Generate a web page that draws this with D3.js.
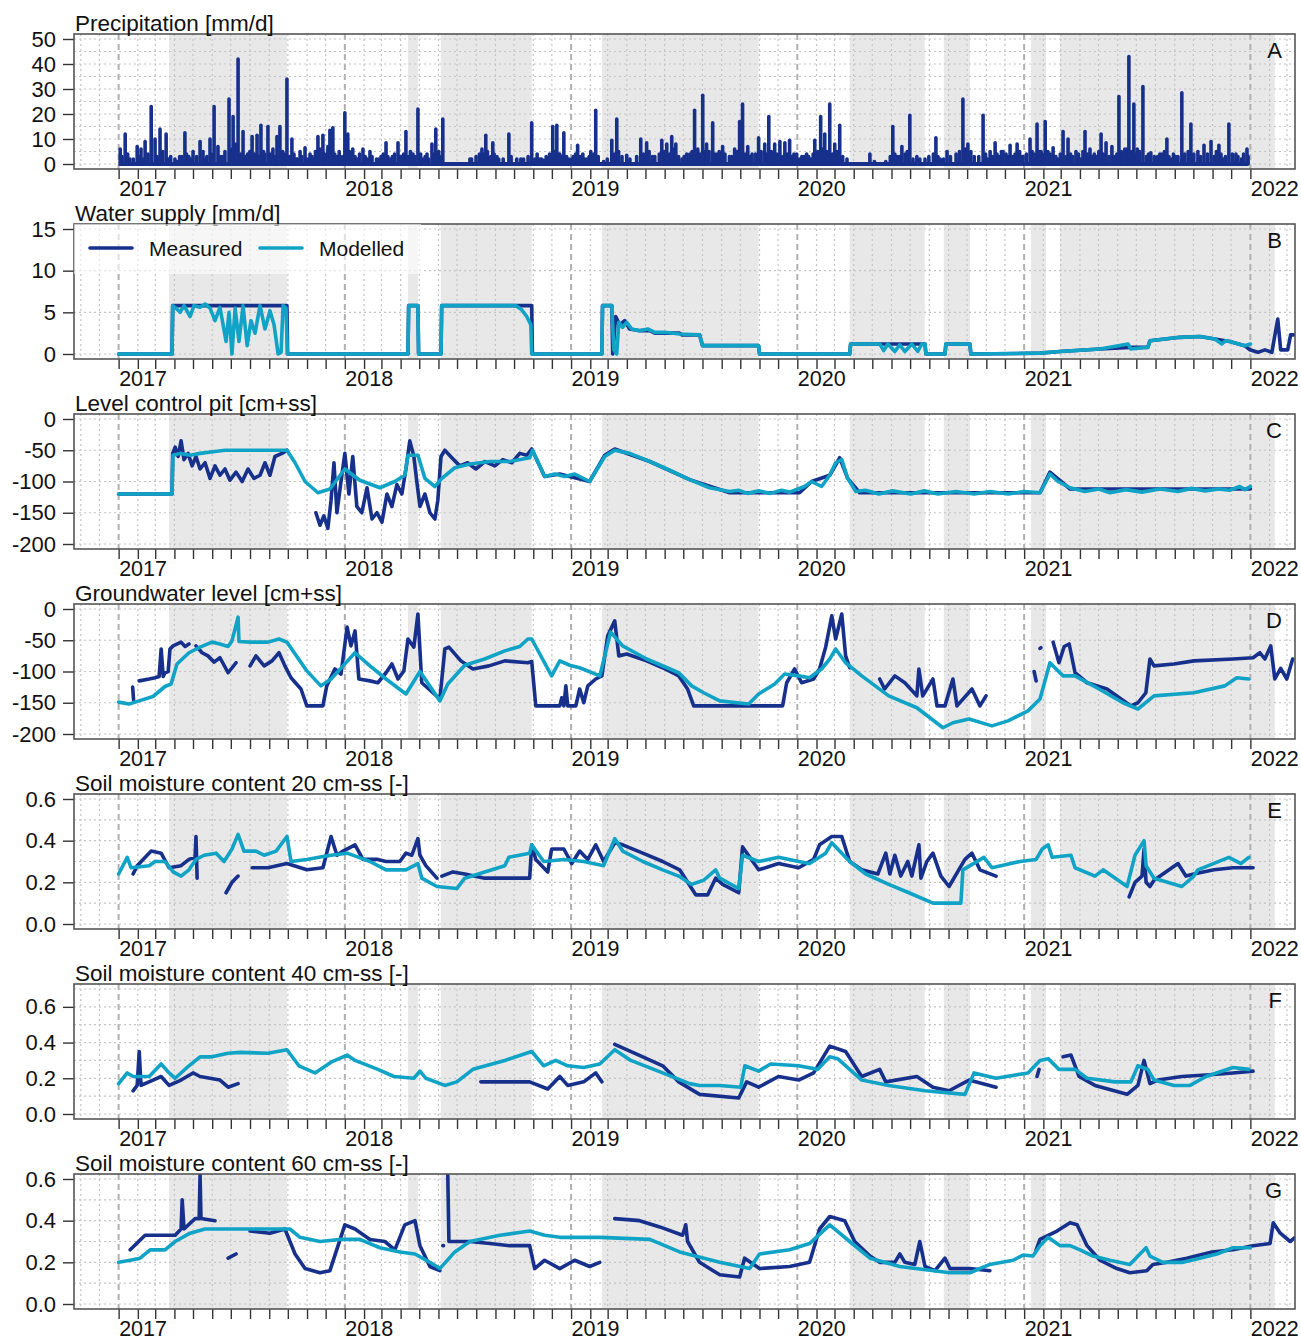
<!doctype html>
<html>
<head>
<meta charset="utf-8">
<style>
  body { margin: 0; background: #fff; }
  svg text { font-family: Arial, "Liberation Sans", sans-serif; fill: #111; }
</style>
<script src="https://cdn.jsdelivr.net/npm/d3@7"></script>
</head>
<body>
<script>
// ---- data: [decimal year, value]; null marks a gap ----
const shadePeriods = [[2017.223, 2017.744], [2018.279, 2018.323], [2018.424, 2018.826], [2019.136, 2019.829],
  [2020.231, 2020.562], [2020.646, 2020.761], [2021.030, 2021.097], [2021.158, 2022.108]];

// precipitation, larger events [year, mm/d]
const precipEvents = [
[2017.007,6],[2017.029,12],[2017.05,2],[2017.082,7],[2017.099,6],[2017.117,9],[2017.144,23],[2017.161,10],[2017.183,14],[2017.21,12],[2017.23,3],[2017.249,2],[2017.27,3],[2017.293,12.5],[2017.31,3],[2017.329,5],[2017.36,9],[2017.373,5],[2017.39,3],[2017.404,10],[2017.422,23],[2017.439,7],[2017.46,3],[2017.488,26],[2017.506,19],[2017.528,42],[2017.55,13],[2017.57,4],[2017.59,11],[2017.612,11.5],[2017.629,15.5],[2017.645,4],[2017.66,15],[2017.682,6],[2017.70,11],[2017.713,15],[2017.744,34],[2017.766,10],[2017.785,2],[2017.802,5],[2017.824,6.5],[2017.846,4],[2017.865,2],[2017.881,11],[2017.903,11.5],[2017.92,4],[2017.934,13.5],[2017.947,14.5],[2017.965,3],
[2018.0,20.5],[2018.013,12],[2018.035,6],[2018.055,2],[2018.08,6],[2018.111,5],[2018.14,2],[2018.16,3],[2018.182,8.5],[2018.21,3],[2018.235,8.5],[2018.25,3],[2018.27,13],[2018.301,4],[2018.323,22],[2018.345,2],[2018.363,4],[2018.385,8],[2018.402,14],[2018.433,18],[2018.553,2],[2018.606,6],[2018.623,11.5],[2018.654,8.5],[2018.672,3],[2018.70,2],[2018.725,12],[2018.778,2],[2018.826,16.5],[2018.862,2],[2018.88,1.5],[2018.919,15],[2018.937,15.5],[2018.95,4],[2018.968,12.5],
[2019.003,2],[2019.029,7.5],[2019.052,4],[2019.07,2],[2019.087,5],[2019.109,21.5],[2019.144,1],[2019.18,9.5],[2019.202,18],[2019.246,3.5],[2019.308,10],[2019.334,8.5],[2019.37,3],[2019.401,9.5],[2019.423,8],[2019.445,11],[2019.463,8],[2019.49,2],[2019.511,4],[2019.546,21.5],[2019.582,27.5],[2019.599,8],[2019.626,16.5],[2019.645,4],[2019.67,7],[2019.70,3],[2019.723,6],[2019.745,17],[2019.758,24],[2019.781,7],[2019.80,4],[2019.829,10.5],[2019.856,8],[2019.874,19],[2019.90,8],[2019.923,9],[2019.945,8.5],[2019.966,9.5],[2019.997,4],
[2020.02,3],[2020.041,4],[2020.06,2],[2020.077,9.5],[2020.103,19],[2020.121,12],[2020.143,24],[2020.165,8],[2020.187,15.5],[2020.219,2],[2020.32,4],[2020.34,1],[2020.39,1],[2020.421,15],[2020.44,3],[2020.461,7],[2020.496,19.5],[2020.527,3],[2020.563,2],[2020.611,10.5],[2020.63,2],[2020.66,5],[2020.73,26],[2020.752,8],[2020.78,3],[2020.819,19.5],[2020.84,2],[2020.872,8.5],[2020.89,3],[2020.907,5],[2020.938,7.5],[2020.95,3],[2020.969,8],[2020.99,3],
[2021.026,10],[2021.057,16],[2021.075,5],[2021.093,17],[2021.128,6.5],[2021.15,2],[2021.172,13],[2021.194,10],[2021.229,5],[2021.25,2],[2021.269,13],[2021.291,6],[2021.32,3],[2021.34,12],[2021.362,8.5],[2021.388,7],[2021.40,3],[2021.419,27],[2021.445,6],[2021.463,43],[2021.485,24],[2021.50,6],[2021.525,31],[2021.56,4.5],[2021.59,3],[2021.61,4],[2021.631,10],[2021.65,2],[2021.67,3],[2021.697,28.5],[2021.737,16],[2021.768,5],[2021.795,7.5],[2021.826,9],[2021.861,7.5],[2021.88,2],[2021.905,16],[2021.936,4],[2021.96,2],[2021.985,6]];

// precipitation, small daily amounts between the events [year, mm/d]
const precipLight = [
[2017.015,3],[2017.04,4],[2017.065,2],[2017.09,3],[2017.11,2],[2017.13,4],[2017.17,3],[2017.195,5],[2017.22,2],[2017.26,1],[2017.28,3],[2017.30,4],[2017.32,2],[2017.345,3],[2017.385,2],[2017.41,4],[2017.45,3],[2017.47,5],[2017.495,6],[2017.515,8],[2017.54,4],[2017.56,3],[2017.58,5],[2017.60,4],[2017.62,3],[2017.64,5],[2017.67,4],[2017.69,3],[2017.725,5],[2017.735,4],[2017.755,3],[2017.775,4],[2017.79,2],[2017.81,3],[2017.835,2],[2017.855,3],[2017.87,5],[2017.89,6],[2017.91,4],[2017.925,7],[2017.94,5],[2017.955,4],[2017.975,5],[2017.99,3],
[2018.005,4],[2018.02,5],[2018.045,3],[2018.065,4],[2018.09,3],[2018.10,2],[2018.12,3],[2018.15,2],[2018.17,4],[2018.19,3],[2018.20,2],[2018.22,4],[2018.24,3],[2018.26,4],[2018.28,3],[2018.29,5],[2018.31,3],[2018.335,4],[2018.355,3],[2018.37,2],[2018.395,4],[2018.415,5],[2018.425,3],[2018.56,2],[2018.58,3],[2018.595,4],[2018.615,4],[2018.63,5],[2018.645,3],[2018.66,4],[2018.68,2],[2018.735,3],[2018.76,2],[2018.79,2],[2018.81,3],[2018.84,2],[2018.85,4],[2018.87,2],[2018.89,3],[2018.905,4],[2018.925,5],[2018.945,4],[2018.96,3],[2018.98,3],[2018.99,2],
[2019.01,3],[2019.02,4],[2019.04,3],[2019.06,2],[2019.08,3],[2019.10,4],[2019.12,3],[2019.16,2],[2019.19,4],[2019.21,5],[2019.225,3],[2019.26,2],[2019.29,3],[2019.32,4],[2019.345,5],[2019.36,3],[2019.39,4],[2019.41,5],[2019.435,4],[2019.455,6],[2019.475,3],[2019.50,3],[2019.525,4],[2019.535,5],[2019.56,6],[2019.57,4],[2019.59,5],[2019.61,5],[2019.635,4],[2019.655,5],[2019.68,4],[2019.71,3],[2019.735,5],[2019.77,4],[2019.79,3],[2019.815,4],[2019.84,5],[2019.865,4],[2019.885,5],[2019.91,4],[2019.935,3],[2019.955,4],[2019.975,3],[2019.985,4],
[2020.01,2],[2020.03,3],[2020.05,3],[2020.07,4],[2020.09,5],[2020.11,6],[2020.13,5],[2020.155,4],[2020.175,5],[2020.20,3],[2020.41,3],[2020.43,4],[2020.45,3],[2020.475,4],[2020.485,5],[2020.51,2],[2020.54,2],[2020.58,3],[2020.60,4],[2020.62,3],[2020.645,2],[2020.675,3],[2020.70,4],[2020.715,5],[2020.74,6],[2020.765,5],[2020.80,3],[2020.83,4],[2020.85,5],[2020.86,3],[2020.88,4],[2020.90,5],[2020.92,4],[2020.93,3],[2020.96,4],[2020.98,5],[2020.995,3],
[2021.01,4],[2021.035,5],[2021.045,4],[2021.065,5],[2021.08,4],[2021.105,5],[2021.115,4],[2021.14,3],[2021.16,4],[2021.185,3],[2021.205,4],[2021.215,3],[2021.24,4],[2021.26,5],[2021.28,4],[2021.30,3],[2021.31,4],[2021.33,5],[2021.35,4],[2021.375,3],[2021.41,4],[2021.43,5],[2021.455,6],[2021.475,5],[2021.495,4],[2021.51,5],[2021.54,3],[2021.55,4],[2021.575,3],[2021.60,4],[2021.62,5],[2021.64,3],[2021.66,4],[2021.68,3],[2021.71,4],[2021.725,5],[2021.75,4],[2021.78,3],[2021.81,4],[2021.84,3],[2021.85,5],[2021.87,4],[2021.89,3],[2021.92,4],[2021.945,3],[2021.97,4],[2021.99,3]];
const precipSpan = [2017.0, 2021.99];

// water supply [mm/d]
const supplyMeasured = [[2017.0,0],[2017.236,0],[2017.239,5.8],[2017.744,5.8],[2017.747,0],[2018.279,0],[2018.282,5.8],[2018.323,5.8],[2018.326,0],[2018.425,0],[2018.428,5.8],[2018.826,5.8],[2018.829,0],[2019.136,0],[2019.139,5.8],[2019.180,5.8],[2019.184,0],[2019.197,4.5],[2019.215,3.5],[2019.237,4],[2019.259,3],[2019.303,2.8],[2019.348,2.8],[2019.370,2.5],[2019.480,2.5],[2019.489,2.3],[2019.568,2.3],[2019.581,1],[2019.829,1],[2019.833,0],[2020.231,0],[2020.235,1.2],[2020.563,1.2],[2020.567,0],[2020.651,0],[2020.655,1.2],[2020.761,1.2],[2020.765,0],[2021.070,0.1],[2021.158,0.3],[2021.335,0.6],[2021.467,0.8],[2021.547,0.8],[2021.556,1.6],[2021.689,2.0],[2021.777,2.1],[2021.843,1.8],[2021.909,1.5],[2021.975,1.0],[2021.998,0.5],[2022.033,0.2],[2022.064,0.5],[2022.095,0.2],[2022.121,4.2],[2022.134,0.5],[2022.165,0.5],[2022.178,2.3],[2022.191,2.3]];
const supplyModelled = [[2017.0,0],[2017.236,0],[2017.239,5.8],[2017.254,5.5],[2017.272,5.0],[2017.289,5.8],[2017.316,4.5],[2017.333,5.8],[2017.360,5.6],[2017.382,6.0],[2017.404,5.5],[2017.426,4.0],[2017.448,5.6],[2017.475,1.5],[2017.488,5.0],[2017.501,0],[2017.515,5.5],[2017.532,1.5],[2017.550,5.8],[2017.568,1.0],[2017.585,4.0],[2017.603,2.5],[2017.625,5.8],[2017.647,3.0],[2017.669,5.2],[2017.687,3.5],[2017.705,0],[2017.718,0.2],[2017.727,5.8],[2017.740,5.5],[2017.746,0],[2018.279,0],[2018.282,5.8],[2018.323,5.8],[2018.326,0],[2018.425,0],[2018.428,5.8],[2018.756,5.8],[2018.782,5.3],[2018.804,4.5],[2018.822,3.5],[2018.826,0],[2019.136,0],[2019.139,5.8],[2019.180,5.8],[2019.189,0.5],[2019.202,0],[2019.211,3.8],[2019.228,3.2],[2019.246,3.8],[2019.268,3.0],[2019.303,2.8],[2019.339,3.0],[2019.370,2.6],[2019.414,2.6],[2019.480,2.4],[2019.568,2.3],[2019.581,1.0],[2019.829,1],[2019.833,0],[2020.231,0],[2020.235,1.2],[2020.364,1.2],[2020.381,0.4],[2020.399,1.2],[2020.430,0.3],[2020.452,1.1],[2020.474,0.3],[2020.505,1.2],[2020.531,0.3],[2020.549,1.2],[2020.563,1.2],[2020.567,0],[2020.651,0],[2020.655,1.2],[2020.761,1.2],[2020.765,0],[2021.070,0.1],[2021.158,0.3],[2021.335,0.6],[2021.459,1.2],[2021.472,0.6],[2021.547,0.8],[2021.556,1.6],[2021.689,2.0],[2021.777,2.1],[2021.843,1.8],[2021.874,1.2],[2021.891,1.6],[2021.909,1.5],[2021.975,1.0],[2022.0,1.2]];

// level control pit [cm+ss]
const pitMeasured = [[2017.0,-120],[2017.236,-120],[2017.239,-55],[2017.250,-45],[2017.263,-60],[2017.276,-35],[2017.289,-65],[2017.307,-55],[2017.325,-75],[2017.342,-60],[2017.360,-80],[2017.382,-70],[2017.404,-95],[2017.426,-75],[2017.448,-90],[2017.470,-80],[2017.492,-98],[2017.519,-85],[2017.546,-100],[2017.572,-80],[2017.598,-95],[2017.625,-90],[2017.647,-70],[2017.669,-90],[2017.691,-60],[2017.722,-55],[2017.744,-50],null,
[2017.872,-150],[2017.890,-170],[2017.907,-155],[2017.925,-175],[2017.939,-130],[2017.952,-70],[2017.965,-150],[2017.983,-100],[2018.0,-55],[2018.018,-120],[2018.035,-60],[2018.053,-140],[2018.075,-150],[2018.098,-110],[2018.120,-160],[2018.142,-150],[2018.164,-165],[2018.186,-120],[2018.208,-140],[2018.230,-105],[2018.252,-120],[2018.270,-80],[2018.287,-35],[2018.305,-60],[2018.318,-100],[2018.332,-140],[2018.354,-120],[2018.376,-150],[2018.398,-160],[2018.411,-130],[2018.425,-60],[2018.442,-50],[2018.473,-62],[2018.508,-75],[2018.543,-70],[2018.579,-80],[2018.619,-68],[2018.663,-75],[2018.698,-65],[2018.738,-70],[2018.773,-55],[2018.804,-58],[2018.826,-48],[2018.883,-92],[2018.950,-88],[2019.082,-100],[2019.149,-58],[2019.193,-48],[2019.348,-68],[2019.524,-97],[2019.701,-118],[2020.010,-118],[2020.063,-100],[2020.143,-90],[2020.187,-62],[2020.222,-95],[2020.275,-118],[2021.070,-118],[2021.114,-85],[2021.203,-112],[2022.0,-112]];
const pitModelled = [[2017.0,-120],[2017.236,-120],[2017.24,-58],[2017.272,-55],[2017.316,-58],[2017.360,-55],[2017.426,-52],[2017.470,-50],[2017.744,-50],[2017.780,-70],[2017.824,-100],[2017.881,-118],[2017.934,-112],[2018.0,-80],[2018.066,-98],[2018.155,-110],[2018.221,-100],[2018.265,-90],[2018.279,-58],[2018.323,-58],[2018.354,-95],[2018.398,-108],[2018.429,-95],[2018.486,-78],[2018.553,-72],[2018.641,-68],[2018.729,-68],[2018.817,-62],[2018.830,-50],[2018.883,-92],[2018.928,-88],[2018.972,-92],[2019.016,-88],[2019.082,-100],[2019.149,-60],[2019.193,-50],[2019.259,-55],[2019.348,-68],[2019.436,-82],[2019.524,-97],[2019.612,-110],[2019.701,-116],[2019.74,-114],[2019.78,-119],[2019.83,-115],[2019.88,-119],[2019.93,-114],[2019.966,-117],[2020.032,-108],[2020.063,-100],[2020.107,-108],[2020.143,-90],[2020.169,-70],[2020.196,-65],[2020.222,-95],[2020.258,-116],[2020.30,-114],[2020.36,-120],[2020.42,-115],[2020.50,-120],[2020.56,-115],[2020.62,-120],[2020.70,-116],[2020.78,-120],[2020.85,-116],[2020.93,-120],[2021.00,-116],[2021.070,-118],[2021.097,-100],[2021.114,-88],[2021.150,-100],[2021.203,-110],[2021.269,-116],[2021.33,-112],[2021.38,-118],[2021.45,-113],[2021.52,-117],[2021.60,-112],[2021.68,-116],[2021.74,-111],[2021.80,-115],[2021.86,-112],[2021.909,-114],[2021.953,-108],[2021.975,-113],[2022.0,-108]];

// groundwater level [cm+ss]
const gwMeasured = [[2017.062,-125],[2017.066,-145],null,
[2017.091,-115],[2017.135,-112],[2017.161,-110],[2017.179,-108],[2017.188,-64],[2017.197,-108],[2017.205,-102],[2017.219,-100],[2017.227,-64],[2017.241,-59],[2017.276,-53],[2017.294,-60],[2017.311,-56],null,
[2017.342,-59],[2017.369,-70],[2017.395,-75],[2017.422,-85],[2017.448,-78],[2017.484,-102],[2017.519,-86],null,
[2017.581,-91],[2017.607,-75],[2017.643,-91],[2017.678,-83],[2017.709,-70],[2017.735,-91],[2017.762,-110],[2017.806,-128],[2017.832,-155],[2017.903,-155],[2017.920,-123],[2017.956,-96],[2017.983,-104],[2018.010,-29],[2018.027,-59],[2018.045,-35],[2018.062,-112],[2018.111,-115],[2018.146,-118],[2018.182,-102],[2018.208,-88],[2018.235,-112],[2018.261,-99],[2018.279,-48],[2018.305,-61],[2018.323,-8],[2018.340,-118],[2018.420,-144],[2018.442,-64],[2018.460,-61],[2018.513,-83],[2018.566,-96],[2018.637,-91],[2018.707,-83],[2018.809,-86],[2018.826,-84],[2018.844,-155],[2018.950,-155],[2018.959,-142],[2018.968,-155],[2018.977,-123],[2018.985,-155],[2019.021,-155],[2019.038,-128],[2019.056,-150],[2019.074,-123],[2019.109,-112],[2019.136,-107],[2019.162,-43],[2019.193,-19],[2019.211,-75],[2019.246,-72],[2019.334,-83],[2019.405,-94],[2019.476,-107],[2019.515,-128],[2019.542,-155],[2019.935,-155],[2019.953,-118],[2019.988,-96],[2020.019,-118],[2020.072,-112],[2020.098,-96],[2020.125,-61],[2020.152,-11],[2020.169,-48],[2020.196,-8],[2020.213,-75],[2020.231,-94],null,
[2020.363,-112],[2020.385,-128],[2020.430,-107],[2020.474,-118],[2020.527,-139],[2020.536,-96],[2020.553,-139],[2020.598,-112],[2020.616,-155],[2020.651,-155],[2020.686,-112],[2020.704,-155],[2020.770,-128],[2020.805,-155],[2020.832,-139],null,
[2021.044,-100],[2021.053,-115],null,[2021.070,-63],[2021.074,-62],null,
[2021.128,-53],[2021.154,-86],[2021.177,-60],[2021.199,-56],[2021.225,-102],[2021.278,-118],[2021.366,-128],[2021.472,-155],[2021.503,-150],[2021.538,-134],[2021.556,-80],[2021.574,-91],[2021.662,-88],[2021.750,-83],[2021.923,-80],[2022.012,-78],[2022.042,-70],[2022.064,-80],[2022.090,-59],[2022.108,-112],[2022.134,-95],[2022.161,-112],[2022.187,-80]];
const gwModelled = [[2017.0,-149],[2017.046,-152],[2017.091,-147],[2017.152,-140],[2017.205,-124],[2017.232,-120],[2017.258,-88],[2017.311,-70],[2017.360,-61],[2017.413,-53],[2017.448,-56],[2017.484,-60],[2017.501,-51],[2017.528,-13],[2017.532,-52],[2017.581,-53],[2017.660,-53],[2017.709,-48],[2017.744,-53],[2017.780,-72],[2017.832,-99],[2017.894,-123],[2017.939,-112],[2017.992,-91],[2018.045,-70],[2018.111,-91],[2018.182,-112],[2018.270,-136],[2018.332,-100],[2018.420,-147],[2018.455,-120],[2018.530,-90],[2018.618,-80],[2018.707,-67],[2018.773,-60],[2018.809,-48],[2018.826,-48],[2018.914,-107],[2018.950,-83],[2018.994,-90],[2019.038,-94],[2019.127,-107],[2019.175,-37],[2019.228,-59],[2019.334,-80],[2019.476,-102],[2019.533,-123],[2019.586,-134],[2019.657,-147],[2019.785,-152],[2019.829,-136],[2019.900,-120],[2019.944,-104],[2020.006,-107],[2020.054,-110],[2020.107,-96],[2020.143,-80],[2020.169,-64],[2020.213,-86],[2020.284,-107],[2020.403,-139],[2020.527,-158],[2020.642,-190],[2020.686,-182],[2020.757,-176],[2020.858,-187],[2020.929,-179],[2021.017,-163],[2021.070,-144],[2021.114,-86],[2021.172,-107],[2021.225,-107],[2021.331,-128],[2021.437,-150],[2021.503,-160],[2021.574,-139],[2021.750,-134],[2021.887,-123],[2021.940,-110],[2021.993,-112]];

// soil moisture 20 cm [-]
const sm20Measured = [[2017.064,0.24],[2017.082,0.28],[2017.144,0.35],[2017.188,0.34],[2017.223,0.27],[2017.276,0.28],[2017.311,0.31],[2017.338,0.32],[2017.342,0.42],[2017.347,0.22],null,
[2017.475,0.15],[2017.501,0.20],[2017.528,0.23],null,
[2017.590,0.27],[2017.660,0.27],[2017.744,0.29],[2017.832,0.26],[2017.903,0.27],[2017.939,0.42],[2017.965,0.33],[2017.992,0.35],[2018.045,0.38],[2018.080,0.31],[2018.146,0.31],[2018.182,0.30],[2018.243,0.30],[2018.270,0.34],[2018.296,0.33],[2018.323,0.41],[2018.332,0.33],[2018.358,0.28],[2018.407,0.22],null,
[2018.429,0.23],[2018.478,0.25],[2018.530,0.24],[2018.618,0.22],[2018.707,0.22],[2018.817,0.22],[2018.826,0.38],[2018.844,0.31],[2018.897,0.25],[2018.914,0.36],[2018.968,0.36],[2019.003,0.29],[2019.038,0.35],[2019.074,0.31],[2019.109,0.38],[2019.144,0.30],[2019.193,0.39],[2019.228,0.38],[2019.317,0.34],[2019.405,0.30],[2019.480,0.26],[2019.551,0.14],[2019.604,0.14],[2019.639,0.22],[2019.670,0.19],[2019.741,0.15],[2019.758,0.37],[2019.829,0.26],[2019.917,0.29],[2020.006,0.27],[2020.072,0.31],[2020.098,0.38],[2020.152,0.42],[2020.196,0.42],[2020.231,0.30],[2020.284,0.26],[2020.355,0.24],[2020.390,0.34],[2020.408,0.24],[2020.430,0.33],[2020.456,0.23],[2020.487,0.30],[2020.505,0.23],[2020.536,0.38],[2020.545,0.22],[2020.571,0.30],[2020.598,0.34],[2020.633,0.23],[2020.669,0.18],[2020.739,0.31],[2020.770,0.34],[2020.805,0.26],[2020.876,0.23],null,
[2021.464,0.13],[2021.490,0.20],[2021.521,0.23],[2021.530,0.36],[2021.539,0.20],[2021.556,0.18],[2021.574,0.21],[2021.680,0.29],[2021.715,0.23],[2021.750,0.24],[2021.839,0.26],[2021.923,0.27],[2022.012,0.27]];
const sm20Modelled = [[2017.000,0.24],[2017.038,0.32],[2017.055,0.27],[2017.135,0.28],[2017.161,0.30],[2017.205,0.30],[2017.241,0.25],[2017.276,0.23],[2017.311,0.26],[2017.342,0.31],[2017.378,0.33],[2017.431,0.34],[2017.466,0.30],[2017.501,0.36],[2017.528,0.43],[2017.554,0.35],[2017.607,0.35],[2017.643,0.33],[2017.696,0.35],[2017.744,0.42],[2017.762,0.30],[2017.832,0.31],[2017.886,0.32],[2017.939,0.33],[2018.010,0.34],[2018.062,0.32],[2018.111,0.30],[2018.182,0.26],[2018.270,0.26],[2018.323,0.29],[2018.340,0.22],[2018.407,0.18],[2018.495,0.17],[2018.530,0.22],[2018.618,0.25],[2018.707,0.28],[2018.725,0.32],[2018.817,0.34],[2018.826,0.38],[2018.879,0.30],[2018.968,0.31],[2019.056,0.30],[2019.144,0.28],[2019.193,0.41],[2019.228,0.35],[2019.317,0.30],[2019.405,0.26],[2019.476,0.23],[2019.533,0.19],[2019.586,0.21],[2019.639,0.26],[2019.657,0.22],[2019.741,0.17],[2019.758,0.33],[2019.829,0.30],[2019.917,0.32],[2020.006,0.30],[2020.054,0.29],[2020.125,0.34],[2020.152,0.39],[2020.178,0.36],[2020.231,0.30],[2020.302,0.24],[2020.403,0.19],[2020.492,0.15],[2020.598,0.10],[2020.721,0.10],[2020.730,0.26],[2020.823,0.32],[2020.858,0.27],[2020.982,0.30],[2021.053,0.31],[2021.080,0.36],[2021.106,0.38],[2021.124,0.32],[2021.207,0.33],[2021.225,0.27],[2021.313,0.23],[2021.349,0.26],[2021.455,0.18],[2021.490,0.33],[2021.530,0.40],[2021.539,0.28],[2021.574,0.22],[2021.697,0.18],[2021.750,0.23],[2021.768,0.26],[2021.905,0.32],[2021.958,0.29],[2021.993,0.32]];

// soil moisture 40 cm [-]
const sm40Measured = [[2017.064,0.13],[2017.082,0.16],[2017.091,0.35],[2017.099,0.16],[2017.152,0.19],[2017.188,0.21],[2017.223,0.16],[2017.276,0.19],[2017.329,0.23],[2017.360,0.21],[2017.448,0.19],[2017.484,0.15],[2017.528,0.17],null,
[2018.601,0.18],[2018.817,0.18],[2018.897,0.14],[2018.950,0.21],[2018.985,0.16],[2019.056,0.18],[2019.109,0.23],[2019.136,0.18],null,
[2019.193,0.39],[2019.317,0.32],[2019.405,0.27],[2019.476,0.18],[2019.568,0.11],[2019.741,0.09],[2019.776,0.18],[2019.829,0.15],[2019.917,0.21],[2020.006,0.19],[2020.072,0.23],[2020.143,0.38],[2020.213,0.35],[2020.284,0.21],[2020.363,0.25],[2020.390,0.18],[2020.527,0.21],[2020.598,0.15],[2020.669,0.13],[2020.757,0.19],[2020.876,0.15],null,
[2021.057,0.21],[2021.066,0.25],null,
[2021.172,0.32],[2021.207,0.33],[2021.243,0.21],[2021.313,0.16],[2021.455,0.11],[2021.503,0.16],[2021.530,0.30],[2021.556,0.17],[2021.591,0.19],[2021.697,0.21],[2021.821,0.22],[2021.923,0.23],[2022.012,0.24]];
const sm40Modelled = [[2017.000,0.17],[2017.038,0.23],[2017.064,0.21],[2017.135,0.21],[2017.188,0.28],[2017.223,0.23],[2017.250,0.20],[2017.311,0.27],[2017.360,0.32],[2017.413,0.32],[2017.484,0.34],[2017.537,0.345],[2017.660,0.34],[2017.744,0.36],[2017.797,0.27],[2017.868,0.23],[2017.939,0.29],[2018.010,0.33],[2018.045,0.30],[2018.146,0.25],[2018.217,0.21],[2018.305,0.20],[2018.332,0.24],[2018.358,0.20],[2018.442,0.16],[2018.495,0.18],[2018.566,0.25],[2018.707,0.30],[2018.826,0.35],[2018.879,0.27],[2018.932,0.30],[2018.985,0.27],[2019.056,0.26],[2019.127,0.28],[2019.193,0.36],[2019.264,0.30],[2019.405,0.23],[2019.524,0.17],[2019.568,0.16],[2019.657,0.16],[2019.750,0.15],[2019.768,0.27],[2019.829,0.24],[2019.882,0.28],[2020.006,0.27],[2020.090,0.25],[2020.143,0.32],[2020.178,0.31],[2020.284,0.19],[2020.403,0.16],[2020.563,0.13],[2020.739,0.11],[2020.779,0.23],[2020.876,0.20],[2021.017,0.23],[2021.070,0.30],[2021.106,0.31],[2021.154,0.25],[2021.225,0.25],[2021.278,0.20],[2021.402,0.18],[2021.472,0.18],[2021.503,0.27],[2021.547,0.25],[2021.574,0.19],[2021.662,0.16],[2021.733,0.16],[2021.804,0.21],[2021.923,0.26],[2021.993,0.25]];

// soil moisture 60 cm [-]
const sm60Measured = [[2017.051,0.26],[2017.117,0.33],[2017.183,0.33],[2017.250,0.33],[2017.276,0.36],[2017.281,0.50],[2017.289,0.36],[2017.338,0.41],[2017.356,0.41],[2017.360,0.62],[2017.364,0.41],[2017.426,0.40],null,
[2017.484,0.22],[2017.519,0.24],null,
[2017.581,0.35],[2017.669,0.34],[2017.735,0.36],[2017.780,0.24],[2017.824,0.17],[2017.890,0.15],[2017.934,0.16],[2018.000,0.38],[2018.045,0.36],[2018.111,0.31],[2018.177,0.30],[2018.221,0.26],[2018.265,0.38],[2018.310,0.40],[2018.332,0.28],[2018.376,0.18],[2018.420,0.16],null,
[2018.433,0.28],[2018.436,0.28],null,
[2018.455,0.62],[2018.460,0.30],[2018.486,0.30],[2018.553,0.30],[2018.641,0.29],[2018.729,0.28],[2018.817,0.28],[2018.839,0.17],[2018.883,0.21],[2018.950,0.17],[2019.016,0.21],[2019.082,0.18],[2019.127,0.20],null,
[2019.193,0.41],[2019.303,0.40],[2019.392,0.37],[2019.493,0.33],[2019.507,0.38],[2019.515,0.30],[2019.568,0.20],[2019.657,0.14],[2019.745,0.13],[2019.767,0.22],[2019.833,0.17],[2019.966,0.18],[2020.054,0.20],[2020.098,0.36],[2020.143,0.42],[2020.209,0.40],[2020.253,0.30],[2020.320,0.23],[2020.363,0.20],[2020.430,0.20],[2020.452,0.24],[2020.474,0.20],[2020.518,0.19],[2020.540,0.30],[2020.563,0.18],[2020.607,0.16],[2020.651,0.22],[2020.673,0.17],[2020.761,0.17],[2020.849,0.16],null,
[2021.053,0.26],[2021.070,0.31],[2021.145,0.35],[2021.203,0.39],[2021.234,0.38],[2021.278,0.28],[2021.335,0.21],[2021.410,0.17],[2021.467,0.15],[2021.542,0.16],[2021.569,0.19],[2021.631,0.20],[2021.719,0.22],[2021.830,0.25],[2021.923,0.26],[2022.012,0.28],[2022.087,0.29],[2022.101,0.39],[2022.132,0.34],[2022.176,0.30],[2022.198,0.32]];
const sm60Modelled = [[2017.000,0.20],[2017.051,0.21],[2017.095,0.22],[2017.139,0.26],[2017.205,0.26],[2017.250,0.30],[2017.316,0.34],[2017.382,0.36],[2017.757,0.36],[2017.802,0.32],[2017.890,0.30],[2017.978,0.31],[2018.066,0.31],[2018.155,0.27],[2018.243,0.25],[2018.310,0.24],[2018.376,0.20],[2018.420,0.17],[2018.486,0.25],[2018.553,0.30],[2018.685,0.33],[2018.817,0.35],[2018.883,0.33],[2018.950,0.32],[2019.127,0.32],[2019.348,0.31],[2019.480,0.25],[2019.657,0.20],[2019.789,0.17],[2019.833,0.24],[2019.966,0.26],[2020.054,0.29],[2020.143,0.38],[2020.231,0.30],[2020.320,0.22],[2020.452,0.18],[2020.673,0.15],[2020.761,0.15],[2020.849,0.19],[2020.951,0.21],[2020.995,0.235],[2021.039,0.23],[2021.070,0.28],[2021.106,0.32],[2021.159,0.28],[2021.203,0.28],[2021.247,0.26],[2021.304,0.23],[2021.379,0.21],[2021.467,0.19],[2021.512,0.24],[2021.539,0.27],[2021.556,0.23],[2021.613,0.20],[2021.702,0.20],[2021.777,0.22],[2021.852,0.24],[2021.923,0.27],[2022.000,0.27]];

const MEAS = "#17308c", MOD = "#10a3c6";
const intFmt = d => String(d);

const panels = [
  { letter: "A", title: "Precipitation [mm/d]", yDomain: [0, 50], yTicks: [0, 10, 20, 30, 40, 50], yGrid: d3.range(0, 51, 5), fmt: intFmt, series: [] },
  { letter: "B", title: "Water supply [mm/d]", yDomain: [0, 15], yTicks: [0, 5, 10, 15], yGrid: [0, 5, 10, 15], fmt: intFmt,
    series: [[supplyMeasured, MEAS], [supplyModelled, MOD]], legend: true },
  { letter: "C", title: "Level control pit [cm+ss]", yDomain: [-200, 0], yTicks: [0, -50, -100, -150, -200], yGrid: [0, -50, -100, -150, -200], fmt: intFmt,
    series: [[pitMeasured, MEAS], [pitModelled, MOD]] },
  { letter: "D", title: "Groundwater level [cm+ss]", yDomain: [-200, 0], yTicks: [0, -50, -100, -150, -200], yGrid: [0, -50, -100, -150, -200], fmt: intFmt,
    series: [[gwMeasured, MEAS], [gwModelled, MOD]] },
  { letter: "E", title: "Soil moisture content 20 cm-ss [-]", yDomain: [0, 0.6], yTicks: [0, 0.2, 0.4, 0.6], yGrid: d3.range(0, 0.61, 0.1), fmt: d3.format(".1f"),
    series: [[sm20Measured, MEAS], [sm20Modelled, MOD]] },
  { letter: "F", title: "Soil moisture content 40 cm-ss [-]", yDomain: [0, 0.7], yTicks: [0, 0.2, 0.4, 0.6], yGrid: d3.range(0, 0.71, 0.1), fmt: d3.format(".1f"),
    series: [[sm40Measured, MEAS], [sm40Modelled, MOD]] },
  { letter: "G", title: "Soil moisture content 60 cm-ss [-]", yDomain: [0, 0.6], yTicks: [0, 0.2, 0.4, 0.6], yGrid: d3.range(0, 0.61, 0.1), fmt: d3.format(".1f"),
    series: [[sm60Measured, MEAS], [sm60Modelled, MOD]] }
];

// decimal year -> Date
function toDate(t) {
  const y = Math.floor(t);
  const a = new Date(y, 0, 1).getTime(), b = new Date(y + 1, 0, 1).getTime();
  return new Date(a + (t - y) * (b - a));
}

const W = 1301, H = 1341;
const left = 74, right = 1295, boxH = 135, firstTop = 34, step = 190;
const FONT = "Arial, 'Liberation Sans', sans-serif";

const svg = d3.select("body").append("svg").attr("width", W).attr("height", H);

const x = d3.scaleTime()
  .domain([new Date(2016, 9, 21), new Date(2022, 2, 14)])
  .range([left, right]);

const months = d3.timeMonth.range(new Date(2016, 10, 1), new Date(2022, 2, 14));
const tickMonths = d3.timeMonth.range(new Date(2017, 0, 1), new Date(2022, 0, 2));

panels.forEach((p, i) => {
  const top = firstTop + i * step, bottom = top + boxH;
  const y = d3.scaleLinear().domain(p.yDomain).range([top + 130, top + 5]);
  const g = svg.append("g");
  const clipId = "clip" + i;
  g.append("clipPath").attr("id", clipId)
    .append("rect").attr("x", left).attr("y", top).attr("width", right - left).attr("height", boxH);

  // irrigation periods
  g.selectAll(".shade").data(shadePeriods).enter().append("rect")
    .attr("x", d => x(toDate(d[0])))
    .attr("width", d => x(toDate(d[1])) - x(toDate(d[0])))
    .attr("y", top).attr("height", boxH)
    .attr("fill", "#e8e8e8");

  // grid
  g.selectAll(".vg").data(months).enter().append("line")
    .attr("x1", d => x(d)).attr("x2", d => x(d)).attr("y1", top).attr("y2", bottom)
    .attr("stroke", d => d.getMonth() === 0 ? "#b0b0b0" : "#c4c4c4")
    .attr("stroke-width", d => d.getMonth() === 0 ? 2 : 1.2)
    .attr("stroke-dasharray", d => d.getMonth() === 0 ? "6,4" : "2,3");
  g.selectAll(".hg").data(p.yGrid).enter().append("line")
    .attr("x1", left).attr("x2", right).attr("y1", d => y(d)).attr("y2", d => y(d))
    .attr("stroke", "#c4c4c4").attr("stroke-width", 1.2).attr("stroke-dasharray", "2,3");

  const plot = g.append("g").attr("clip-path", `url(#${clipId})`);

  if (p.letter === "A") {
    plot.append("line")
      .attr("x1", x(toDate(precipSpan[0]))).attr("x2", x(toDate(precipSpan[1])))
      .attr("y1", y(0)).attr("y2", y(0))
      .attr("stroke", MEAS).attr("stroke-width", 4);
    plot.selectAll(".pr").data(precipLight.concat(precipEvents)).enter().append("line")
      .attr("x1", d => x(toDate(d[0]))).attr("x2", d => x(toDate(d[0])))
      .attr("y1", y(0)).attr("y2", d => y(d[1]))
      .attr("stroke", MEAS).attr("stroke-width", 3.6).attr("stroke-linecap", "round");
  }

  const line = d3.line()
    .defined(d => d !== null)
    .x(d => x(toDate(d[0])))
    .y(d => y(d[1]));
  p.series.forEach(([data, col]) => {
    plot.append("path").datum(data)
      .attr("d", line)
      .attr("fill", "none").attr("stroke", col)
      .attr("stroke-width", 3.6).attr("stroke-linejoin", "round").attr("stroke-linecap", "round");
  });

  // axes
  const xa = g.append("g").attr("transform", `translate(0,${bottom})`)
    .call(d3.axisBottom(x).tickValues(tickMonths).tickSize(10).tickPadding(2)
      .tickFormat(d => d.getMonth() === 0 ? d.getFullYear() : ""));
  xa.select(".domain").remove();
  xa.selectAll(".tick line").attr("stroke", "#333").attr("stroke-width", 1.4);
  xa.selectAll(".tick text").attr("text-anchor", "start").attr("x", 0)
    .style("font-size", "21.5px").style("font-family", FONT).attr("fill", "#111");

  const ya = g.append("g").attr("transform", `translate(${left},0)`)
    .call(d3.axisLeft(y).tickValues(p.yTicks).tickSize(11).tickPadding(7).tickFormat(p.fmt));
  ya.select(".domain").remove();
  ya.selectAll(".tick line").attr("stroke", "#333").attr("stroke-width", 1.4);
  ya.selectAll(".tick text").style("font-size", "22px").style("font-family", FONT).attr("fill", "#111");

  // frame
  g.append("rect").attr("x", left).attr("y", top).attr("width", right - left).attr("height", boxH)
    .attr("fill", "none").attr("stroke", "#555").attr("stroke-width", 1.6);

  g.append("text").attr("x", left + 1).attr("y", top - 3)
    .style("font-size", "22.5px").text(p.title);
  g.append("text").attr("x", right - 13).attr("y", top + 24).attr("text-anchor", "end")
    .style("font-size", "22px").text(p.letter);

  if (p.legend) {
    const lg = g.append("g");
    lg.append("rect").attr("x", left).attr("y", top).attr("width", 347).attr("height", 50)
      .attr("fill", "#fff").attr("fill-opacity", 0.6);
    const items = [["Measured", MEAS, 90], ["Modelled", MOD, 260]];
    items.forEach(([name, col, lx]) => {
      lg.append("line").attr("x1", lx).attr("x2", lx + 42).attr("y1", top + 24).attr("y2", top + 24)
        .attr("stroke", col).attr("stroke-width", 3.6).attr("stroke-linecap", "round");
      lg.append("text").attr("x", lx + 59).attr("y", top + 32).style("font-size", "21px").text(name);
    });
  }
});
</script>
</body>
</html>
